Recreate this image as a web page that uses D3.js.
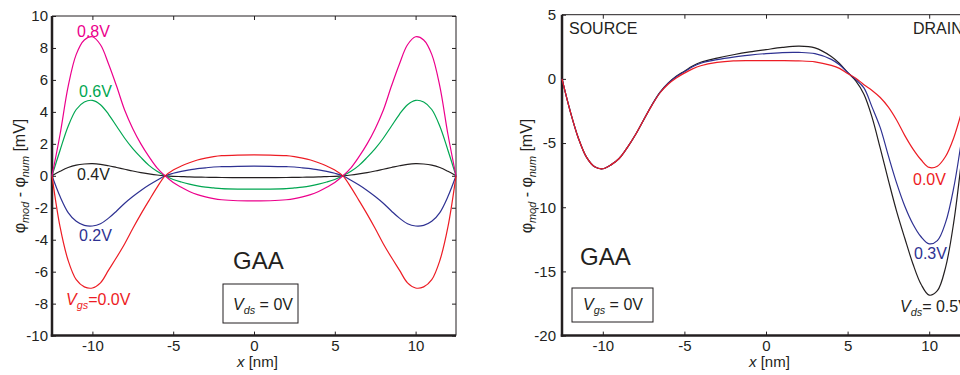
<!DOCTYPE html>
<html>
<head>
<meta charset="utf-8">
<script src="https://cdn.jsdelivr.net/npm/d3@7"></script>
<style>
body { margin: 0; background: #fff; }
svg { display: block; font-family: "Liberation Sans", Arial, Helvetica, sans-serif; }
</style>
</head>
<body>
<svg id="chart" width="960" height="375"></svg>
<script>
// ---- left panel: Vds = 0V, different Vgs ----
var leftX = [-12.5,-12,-11.5,-11,-10.5,-10,-9.5,-9,-8.5,-8,-7.5,-7,-6.5,-6,-5.5,-5,-4.5,-4,-3.5,-3,-2.5,-2,-1,0,
	1,2,2.5,3,3.5,4,4.5,5,5.5,6,6.5,7,7.5,8,8.5,9,9.5,10,10.5,11,11.5,12,12.5];

var vgs00 = [0,-3.2,-5.3,-6.5,-6.95,-7.02,-6.7,-5.9,-5.1,-4.25,-3.3,-2.4,-1.55,-0.72,0,0.36,0.61,0.82,0.99,1.11,1.2,1.26,1.3,1.31,
	1.3,1.26,1.2,1.11,0.99,0.82,0.61,0.36,0,-0.72,-1.55,-2.4,-3.3,-4.25,-5.1,-5.9,-6.7,-7.02,-6.95,-6.5,-5.3,-3.2,0];
var vgs02 = [0,-1.3,-2.3,-2.85,-3.1,-3.14,-3.0,-2.65,-2.2,-1.72,-1.3,-0.92,-0.58,-0.28,0,0.16,0.28,0.37,0.45,0.5,0.55,0.57,0.595,0.6,
	0.595,0.57,0.55,0.5,0.45,0.37,0.28,0.16,0,-0.28,-0.58,-0.92,-1.3,-1.72,-2.2,-2.65,-3.0,-3.14,-3.1,-2.85,-2.3,-1.3,0];
var vgs04 = [0,0.28,0.52,0.67,0.74,0.76,0.72,0.63,0.52,0.41,0.3,0.2,0.12,0.05,0,-0.03,-0.05,-0.07,-0.08,-0.09,-0.1,-0.105,-0.11,-0.11,
	-0.11,-0.105,-0.1,-0.09,-0.08,-0.07,-0.05,-0.03,0,0.05,0.12,0.2,0.3,0.41,0.52,0.63,0.72,0.76,0.74,0.67,0.52,0.28,0];
var vgs06 = [0,1.6,3.1,4.15,4.62,4.72,4.45,3.85,3.1,2.35,1.7,1.15,0.65,0.28,0,-0.23,-0.39,-0.52,-0.63,-0.71,-0.76,-0.8,-0.83,-0.84,
	-0.83,-0.8,-0.76,-0.71,-0.63,-0.52,-0.39,-0.23,0,0.28,0.65,1.15,1.7,2.35,3.1,3.85,4.45,4.72,4.62,4.15,3.1,1.6,0];
var vgs08 = [0,2.6,5.6,7.6,8.5,8.7,8.2,7.0,5.6,4.1,2.95,2.0,1.2,0.5,0,-0.42,-0.72,-0.98,-1.18,-1.32,-1.43,-1.5,-1.56,-1.57,
	-1.56,-1.5,-1.43,-1.32,-1.18,-0.98,-0.72,-0.42,0,0.5,1.2,2.0,2.95,4.1,5.6,7.0,8.2,8.7,8.5,7.6,5.6,2.6,0];

// ---- right panel: Vgs = 0V, different Vds ----
var rightX = [-12.5,-12,-11.5,-11,-10.5,-10,-9.5,-9,-8.5,-8,-7.5,-7,-6.5,-6,-5.5,-5,-4.5,-4,-3,-2,-1,0,1,2,3,4,
	4.5,5,5.5,6,6.5,7,7.5,8,8.5,9,9.5,10,10.5,11,11.5,12,12.5];

var vds00 = [0,-2.5,-4.6,-6.1,-6.85,-7.0,-6.7,-6.2,-5.35,-4.35,-3.2,-2.08,-1.1,-0.42,0.07,0.45,0.78,1.02,1.28,1.4,1.42,1.42,1.42,1.4,1.33,1.05,
	0.82,0.42,0.05,-0.45,-0.9,-1.45,-2.2,-3.2,-4.4,-5.45,-6.3,-6.9,-6.8,-6.05,-4.6,-2.5,0];
var vds03 = [0,-2.5,-4.6,-6.1,-6.85,-7.0,-6.7,-6.2,-5.35,-4.35,-3.2,-2.06,-1.07,-0.36,0.16,0.55,0.95,1.22,1.5,1.7,1.85,1.97,2.05,2.06,1.97,1.52,
	1.1,0.5,-0.05,-0.7,-2.2,-3.8,-6.0,-8.1,-9.9,-11.3,-12.3,-12.85,-12.6,-11.2,-8.5,-4.6,0];
var vds05 = [0,-2.5,-4.6,-6.1,-6.85,-7.0,-6.7,-6.2,-5.35,-4.35,-3.2,-2.05,-1.05,-0.34,0.2,0.6,1.0,1.3,1.62,1.88,2.1,2.28,2.45,2.55,2.42,1.75,
	1.2,0.5,-0.15,-1.2,-3.0,-5.4,-7.9,-10.3,-12.4,-14.4,-16.0,-16.85,-16.5,-14.7,-11.2,-6.1,0];

var xTicks = [-10, -5, 0, 5, 10];
var leftYTicks = [-10, -8, -6, -4, -2, 0, 2, 4, 6, 8, 10];
var rightYTicks = [-20, -15, -10, -5, 0, 5];

var red = "#ed1c24", blue = "#2e3192", black = "#231f20", green = "#00a651", magenta = "#ec008c";
var ink = "#231f20";

var svg = d3.select("#chart");

// plain hyphen for negative numbers, like the original
function tickText(d) { return String(d); }

// draws frame, axes and ticks, gives back the scales
function drawPanel(box, yDomain, yTicks, yPad) {
	var x = d3.scaleLinear().domain([-12.5, 12.5]).range([box.left, box.right]);
	var y = d3.scaleLinear().domain(yDomain).range([box.bottom, box.top]);
	var g = svg.append("g");

	function styleAxis(sel) {
		sel.attr("font-family", null).attr("font-size", 15);
		sel.select(".domain").remove();
		sel.selectAll(".tick line").attr("stroke", ink).attr("stroke-width", 1);
		sel.selectAll(".tick text").attr("fill", ink);
	}

	// thin frame top + right
	g.append("line").attr("x1", box.left).attr("x2", box.right).attr("y1", box.top).attr("y2", box.top)
		.attr("stroke", ink).attr("stroke-width", 1);
	g.append("line").attr("x1", box.right).attr("x2", box.right).attr("y1", box.top).attr("y2", box.bottom)
		.attr("stroke", ink).attr("stroke-width", 1);

	g.append("g").attr("transform", "translate(0," + box.top + ")")
		.call(d3.axisTop(x).tickValues(xTicks).tickSizeInner(-4).tickSizeOuter(0).tickFormat(""))
		.call(styleAxis);
	g.append("g").attr("transform", "translate(" + box.right + ",0)")
		.call(d3.axisRight(y).tickValues(yTicks).tickSizeInner(-4).tickSizeOuter(0).tickFormat(""))
		.call(styleAxis);
	g.append("g").attr("transform", "translate(0," + box.bottom + ")")
		.call(d3.axisBottom(x).tickValues(xTicks).tickSizeInner(-4).tickSizeOuter(0).tickPadding(5).tickFormat(tickText))
		.call(styleAxis);
	g.append("g").attr("transform", "translate(" + box.left + ",0)")
		.call(d3.axisLeft(y).tickValues(yTicks).tickSizeInner(-4).tickSizeOuter(0).tickPadding(yPad).tickFormat(tickText))
		.call(styleAxis);

	// thick left + bottom axes
	g.append("line").attr("x1", box.left).attr("x2", box.left).attr("y1", box.top).attr("y2", box.bottom + 1.2)
		.attr("stroke", ink).attr("stroke-width", 2.5);
	g.append("line").attr("x1", box.left - 1.2).attr("x2", box.right).attr("y1", box.bottom).attr("y2", box.bottom)
		.attr("stroke", ink).attr("stroke-width", 2.5);

	return {x: x, y: y};
}

function drawCurve(sc, xs, ys, color) {
	var line = d3.line()
		.x(function(d, i) { return sc.x(xs[i]); })
		.y(function(d) { return sc.y(d); })
		.curve(d3.curveCatmullRom.alpha(0.5));
	svg.append("path").datum(ys)
		.attr("d", line)
		.attr("fill", "none")
		.attr("stroke", color)
		.attr("stroke-width", 1.2);
}

// parts: [text, "sub" | "it" | null]
function richText(x, y, color, size, parts, anchor) {
	var t = svg.append("text").attr("x", x).attr("y", y)
		.attr("fill", color).attr("font-size", size)
		.attr("text-anchor", anchor || "start");
	var shift = 0;
	parts.forEach(function(p) {
		var s = t.append("tspan").text(p[0]);
		var want = p[1] == "sub" ? size * 0.28 : 0;
		s.attr("dy", want - shift);
		shift = want;
		if (p[1] == "sub") s.attr("font-size", size * 0.68).attr("font-style", "italic");
		if (p[1] == "it") s.attr("font-style", "italic");
	});
	return t;
}

function yLabel(x, y) {
	var t = richText(0, 0, ink, 16, [["\u03c6", null], ["mod", "sub"], [" - \u03c6", null], ["num", "sub"], [" [mV]", null]], "middle");
	t.attr("transform", "translate(" + x + "," + y + ") rotate(-90)");
}

// ---- left panel ----
var left = drawPanel({left: 52, right: 456, top: 16, bottom: 335.6}, [-10, 10], leftYTicks, 4);
drawCurve(left, leftX, vgs04, black);
drawCurve(left, leftX, vgs06, green);
drawCurve(left, leftX, vgs02, blue);
drawCurve(left, leftX, vgs08, magenta);
drawCurve(left, leftX, vgs00, red);

richText(77, 37, magenta, 16, [["0.8V", null]]);
richText(79, 97, green, 16, [["0.6V", null]]);
richText(77, 180, black, 16, [["0.4V", null]]);
richText(79, 241, blue, 16, [["0.2V", null]]);
richText(66, 305, red, 16, [["V", "it"], ["gs", "sub"], ["=0.0V", null]]);
richText(233, 269, ink, 24, [["GAA", null]]);
svg.append("rect").attr("x", 223).attr("y", 284).attr("width", 75).attr("height", 39)
	.attr("fill", "none").attr("stroke", ink).attr("stroke-width", 1);
richText(233, 310, ink, 16, [["V", "it"], ["ds", "sub"], [" = 0V", null]]);
richText(237, 367, ink, 15, [["x", "it"], [" [nm]", null]]);
yLabel(25, 176);

// ---- right panel ----
var right = drawPanel({left: 562, right: 970, top: 14.7, bottom: 335.6}, [-20, 5], rightYTicks, 6);
drawCurve(right, rightX, vds05, black);
drawCurve(right, rightX, vds03, blue);
drawCurve(right, rightX, vds00, red);

richText(569, 34, ink, 16, [["SOURCE", null]]);
richText(913, 34, ink, 16, [["DRAIN", null]]);
richText(913, 185, red, 16, [["0.0V", null]]);
richText(914, 259, blue, 16, [["0.3V", null]]);
richText(900, 311.5, ink, 16, [["V", "it"], ["ds", "sub"], ["= 0.5V", null]]);
richText(580, 265, ink, 24, [["GAA", null]]);
svg.append("rect").attr("x", 572).attr("y", 288).attr("width", 81).attr("height", 34)
	.attr("fill", "none").attr("stroke", ink).attr("stroke-width", 1);
richText(583, 310, ink, 16, [["V", "it"], ["gs", "sub"], [" = 0V", null]]);
richText(749, 367, ink, 15, [["x", "it"], [" [nm]", null]]);
yLabel(532, 176);
</script>
</body>
</html>
